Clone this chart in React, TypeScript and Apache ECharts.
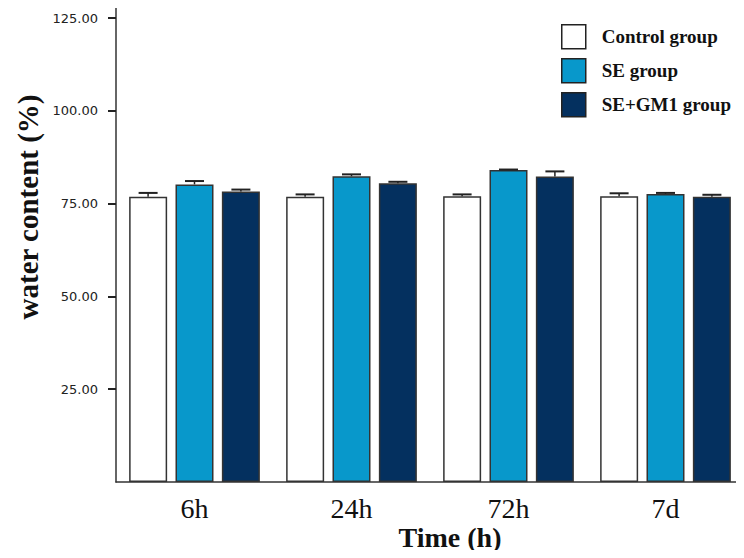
import React, { useEffect, useRef } from "react";
import * as echarts from "echarts";

const categories = ["6h", "24h", "72h", "7d"];
const seriesNames = ["Control group", "SE group", "SE+GM1 group"];
const controlMean = [76.9, 76.9, 77.0, 77.0];
const controlErr = [1.0, 0.6, 0.5, 0.8];
const seMean = [80.2, 82.4, 84.1, 77.6];
const seErr = [0.9, 0.5, 0.1, 0.3];
const gm1Mean = [78.3, 80.5, 82.3, 76.9];
const gm1Err = [0.5, 0.4, 1.4, 0.5];
const yTicks = [25, 50, 75, 100, 125];
const colors = ["#ffffff", "#0898CB", "#04305F"];

const BAR_W = 38;
const BAR_GAP = "22%";
const OFFSETS = [-46.4, 0, 46.4];

export default function App() {
  const ref = useRef<HTMLDivElement>(null);
  useEffect(() => {
    if (!ref.current) return;
    const chart = echarts.init(ref.current, null, { renderer: "svg" });
    const means = [controlMean, seMean, gm1Mean];
    const errs = [controlErr, seErr, gm1Err];

    const bars = seriesNames.map((name, i) => ({
      name,
      type: "bar",
      barWidth: BAR_W,
      barGap: BAR_GAP,
      data: means[i],
      itemStyle: { color: colors[i], borderColor: "#333", borderWidth: 1.5 },
      z: 2,
    }));

    const errorSeries = seriesNames.map((name, i) => ({
      name: name + " error",
      type: "custom",
      z: 3,
      data: means[i].map((m, k) => [k, m, errs[i][k]]),
      encode: { x: 0, y: 1 },
      renderItem: (params: any, api: any) => {
        const idx = api.value(0);
        const m = api.value(1);
        const e = api.value(2);
        const top = api.coord([idx, m + e]);
        const base = api.coord([idx, m]);
        const x = top[0] + OFFSETS[i];
        const half = 9.5;
        return {
          type: "group",
          children: [
            {
              type: "line",
              shape: { x1: x, y1: base[1], x2: x, y2: top[1] },
              style: { stroke: "#222", lineWidth: 1.5 },
            },
            {
              type: "line",
              shape: { x1: x - half, y1: top[1], x2: x + half, y2: top[1] },
              style: { stroke: "#222", lineWidth: 2 },
            },
          ],
        };
      },
    }));

    chart.setOption({
      animation: false,
      backgroundColor: "#ffffff",
      grid: { left: 116, right: -14, top: 7, bottom: 76, containLabel: false },
      legend: {
        orient: "vertical",
        left: 561,
        top: 24,
        padding: 0,
        itemWidth: 24,
        itemHeight: 24,
        itemGap: 8.5,
        data: seriesNames,
        icon: "rect",
        itemStyle: { borderColor: "#222", borderWidth: 1.5 },
        textStyle: {
          fontFamily: "Liberation Serif",
          fontWeight: "bold",
          fontSize: 19,
          color: "#111",
          padding: [0, 0, 0, 11],
        },
      },
      xAxis: {
        type: "category",
        data: categories,
        axisLine: { lineStyle: { color: "#333", width: 1.5 } },
        axisTick: { alignWithLabel: true, length: 8, lineStyle: { color: "#222", width: 2 } },
        axisLabel: {
          fontFamily: "Liberation Serif",
          fontSize: 28,
          color: "#111",
          margin: 12,
        },
      },
      yAxis: {
        type: "value",
        min: 0,
        max: 128,
        splitLine: { show: false },
        axisLine: { show: true, lineStyle: { color: "#333", width: 1.5 } },
        axisTick: {
          show: true,
          length: 8,
          customValues: yTicks,
          lineStyle: { color: "#222", width: 2 },
        },
        axisLabel: {
          customValues: yTicks,
          formatter: (v: number) => v.toFixed(2),
          fontFamily: "DejaVu Sans",
          fontSize: 13,
          color: "#222",
          margin: 18,
        },
      },
      graphic: [
        {
          type: "text",
          x: 28,
          y: 207,
          rotation: Math.PI / 2,
          style: {
            text: "water content (%)",
            fontFamily: "Liberation Serif",
            fontWeight: "bold",
            fontSize: 29,
            fill: "#111",
            align: "center",
            verticalAlign: "middle",
          },
        },
        {
          type: "text",
          x: 450,
          y: 537,
          style: {
            text: "Time (h)",
            fontFamily: "Liberation Serif",
            fontWeight: "bold",
            fontSize: 28,
            fill: "#111",
            align: "center",
            verticalAlign: "middle",
          },
        },
      ],
      series: [...bars, ...errorSeries],
    });
    return () => chart.dispose();
  }, []);
  return <div ref={ref} style={{ width: 744, height: 558, margin: -8 }} />;
}
